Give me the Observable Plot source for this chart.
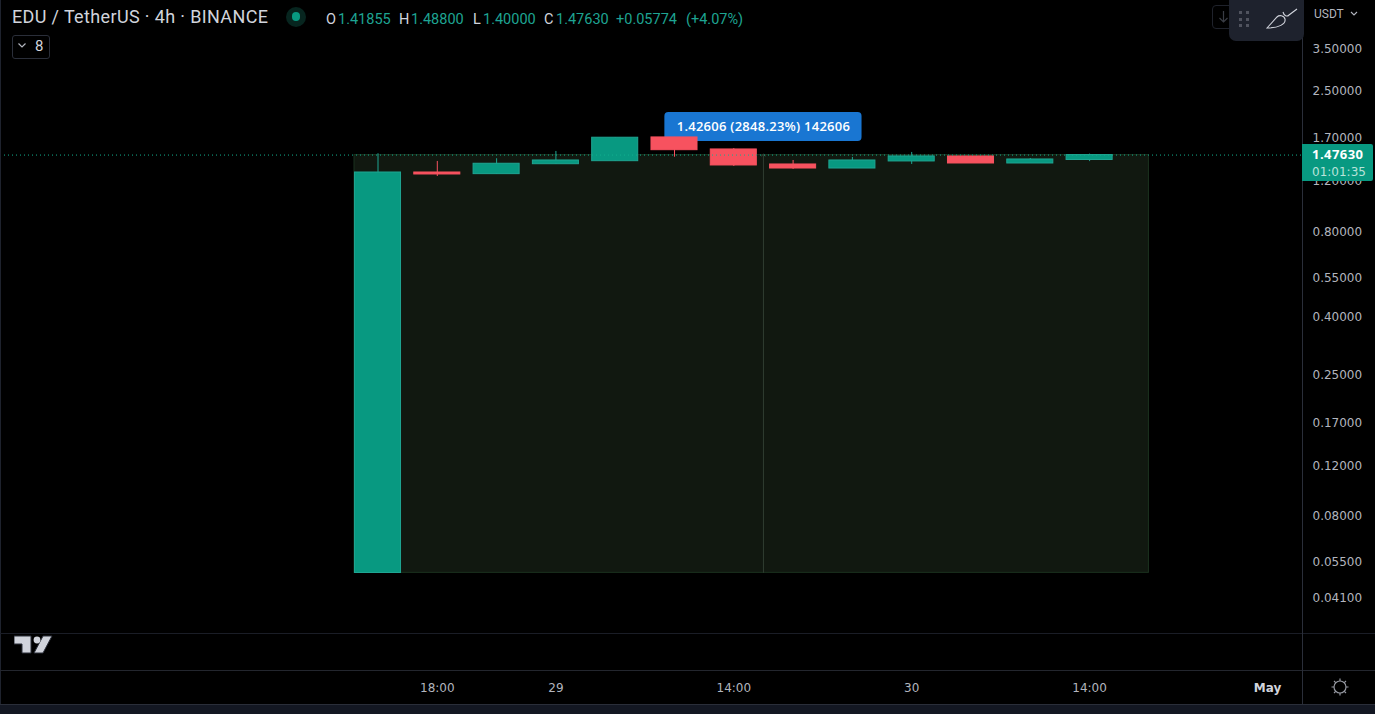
<!DOCTYPE html>
<html><head><meta charset="utf-8">
<style>
html,body{margin:0;padding:0;background:#000;width:1375px;height:714px;overflow:hidden}
#stage{position:relative;width:1375px;height:714px;font-family:Roboto,sans-serif}
#chart{position:absolute;left:0;top:0;width:1375px;height:714px}
#chart svg{position:absolute;left:0;top:0}
.t{position:absolute;white-space:nowrap;line-height:1}
.u{position:absolute}
.lab text{letter-spacing:.25px}
</style>
<script src="https://cdn.jsdelivr.net/npm/d3@7"></script>
<script src="https://cdn.jsdelivr.net/npm/@observablehq/plot@0.6"></script>
</head><body><div id="stage"><div id="chart"></div>
<div class="u" style="left:0;top:0;width:1px;height:704px;background:#1e222d"></div>
<div class="u" style="left:0;top:633px;width:1375px;height:1px;background:#1a1d26"></div>
<div class="u" style="left:0;top:670px;width:1375px;height:1px;background:#23262e"></div>
<div class="u" style="left:1302px;top:0;width:1px;height:704px;background:#2a2e39"></div>
<div class="u" style="left:0;top:704px;width:1375px;height:10px;background:#131722;border-top:1px solid #2a2e39;box-sizing:border-box"></div>

<div class="t" style="left:12px;top:8px;font-size:18px;letter-spacing:.36px;color:#d1d4dc">EDU / TetherUS · 4h · BINANCE</div>
<div class="u" style="left:286px;top:7px;width:20px;height:20px;border-radius:10px;background:#07251f"></div>
<div class="u" style="left:292px;top:12px;width:8px;height:9px;border-radius:5px;background:#089981"></div>
<div class="t" style="left:326px;top:13px;font-size:14.5px;color:#d1d4dc">O</div>
<div class="t" style="left:338px;top:13px;font-size:14.5px;color:#1ea492">1.41855</div>
<div class="t" style="left:399px;top:13px;font-size:14.5px;color:#d1d4dc">H</div>
<div class="t" style="left:411px;top:13px;font-size:14.5px;color:#1ea492">1.48800</div>
<div class="t" style="left:473px;top:13px;font-size:14.5px;color:#d1d4dc">L</div>
<div class="t" style="left:483px;top:13px;font-size:14.5px;color:#1ea492">1.40000</div>
<div class="t" style="left:544px;top:13px;font-size:14.5px;color:#d1d4dc">C</div>
<div class="t" style="left:556px;top:13px;font-size:14.5px;color:#1ea492">1.47630</div>
<div class="t" style="left:616px;top:13px;font-size:14.5px;color:#1ea492">+0.05774</div>
<div class="t" style="left:686px;top:13px;font-size:14.5px;color:#1ea492">(+4.07%)</div>
<div class="u" style="left:12px;top:35px;width:36px;height:22px;border:1px solid #2a2e39;border-radius:3px"></div>
<svg class="u" style="left:17px;top:42px" width="12" height="8"><path d="M1.5 1.5 L5 5 L8.5 1.5" fill="none" stroke="#b2b5be" stroke-width="1.2"/></svg>
<div class="t" style="left:35px;top:39px;font-size:15px;color:#d1d4dc">8</div>

<div class="u" style="left:1212px;top:5px;width:22px;height:24px;border:1px solid #1f222b;border-radius:4px;box-sizing:border-box"></div>
<svg class="u" style="left:1217px;top:10px" width="14" height="14"><path d="M6.5 1 V12 M2.5 8 L6.5 12 L10.5 8" fill="none" stroke="#3a3d45" stroke-width="1.2"/></svg>
<div class="u" style="left:1229px;top:0;width:75px;height:41px;background:#1e222d;border-radius:0 0 7px 7px"></div>
<svg class="u" style="left:1229px;top:0" width="75" height="41">
  <g fill="#50535e"><rect x="10" y="11" width="3" height="3"/><rect x="17" y="11" width="3" height="3"/><rect x="10" y="18" width="3" height="3"/><rect x="17" y="18" width="3" height="3"/><rect x="10" y="24" width="3" height="3"/><rect x="17" y="24" width="3" height="3"/></g>
  <path d="M38 28 L48 17 C50 15 55 15 56 19 C57 24 50 28 38 28 Z M54 12 C55 16 58 17 60 15 L68 9" fill="none" stroke="#d1d4dc" stroke-width="1.1"/>
</svg>
<div class="t" style="left:1314px;top:8px;font-size:12px;color:#b2b5be">USDT</div>
<svg class="u" style="left:1350px;top:11px" width="9" height="6"><path d="M1 1 L4 4 L7 1" fill="none" stroke="#b2b5be" stroke-width="1.1"/></svg>

<div class="u" style="left:1302px;top:144px;width:71px;height:37px;background:#089981;border-radius:0 2px 2px 0"></div>
<div class="t" style="left:1312px;top:148px;font-size:13px;font-weight:700;letter-spacing:.45px;color:#fff;font-family:'Open Sans',sans-serif">1.47630</div>
<div class="t" style="left:1312px;top:166px;font-size:12px;color:#b9e3da;font-family:'DejaVu Sans',sans-serif">01:01:35</div>

<svg class="u" style="left:14px;top:635px" width="40" height="22">
  <path d="M0 1 H17 V18 H8 V9 H0 Z M29 1 H38 L29 18 H20 Z" fill="#d1d4dc" stroke="#2a2e39" stroke-width="1"/><circle cx="23" cy="5" r="3.4" fill="#d1d4dc"/>
</svg>
<svg class="u" style="left:1330px;top:677px" width="20" height="20">
  <circle cx="10" cy="10" r="6" fill="none" stroke="#9598a1" stroke-width="1.2"/>
  <path d="M10 1.5 V4 M10 16 V18.5 M1.5 10 H4 M16 10 H18.5 M4 4 L5.7 5.7 M14.3 14.3 L16 16 M4 16 L5.7 14.3 M14.3 5.7 L16 4" stroke="#9598a1" stroke-width="1.2"/>
</svg>
</div>
<script>
const times = ["2023-04-28T14:00Z","2023-04-28T18:00Z","2023-04-28T22:00Z","2023-04-29T02:00Z","2023-04-29T06:00Z","2023-04-29T10:00Z","2023-04-29T14:00Z","2023-04-29T18:00Z","2023-04-29T22:00Z","2023-04-30T02:00Z","2023-04-30T06:00Z","2023-04-30T10:00Z","2023-04-30T14:00Z"];
const opens  = [0.05,1.282,1.265,1.371,1.405,1.703,1.545,1.368,1.324,1.402,1.460,1.379,1.41855];
const highs  = [1.492,1.402,1.433,1.520,1.699,1.703,1.557,1.413,1.448,1.508,1.460,1.436,1.488];
const lows   = [0.05,1.241,1.265,1.371,1.405,1.451,1.346,1.314,1.324,1.368,1.379,1.379,1.40];
const closes = [1.282,1.2615,1.376,1.413,1.699,1.536,1.357,1.324,1.413,1.460,1.379,1.4246,1.4763];

const priceTicks = [3.5,2.5,1.7,1.2,0.8,0.55,0.4,0.25,0.17,0.12,0.08,0.055,0.041];
const timeTickDates = ["2023-04-28T18:00Z","2023-04-29T02:00Z","2023-04-29T14:00Z","2023-04-30T02:00Z","2023-04-30T14:00Z"];
const timeTickLabels = ["18:00","29","14:00","30","14:00"];
const boldTickDates = ["2023-05-01T02:00Z"];
const boldTickLabels = ["May"];

const lastPrice = 1.4763;
const toolLow = 0.05007, toolHigh = 1.47613;
const toolStart = "2023-04-28T12:25Z", toolEnd = "2023-04-30T18:00Z", toolMid = "2023-04-29T16:00Z";
const toolLabel = "1.42606 (2848.23%) 142606";
const labelBox = {x1:"2023-04-29T09:21Z", x2:"2023-04-29T22:39Z", y1:1.648, y2:2.084, y:1.853};

const HALF = 1.553 * 3600e3;
const candles = times.map((t,i)=>({t:new Date(t),open:opens[i],high:highs[i],low:lows[i],close:closes[i],up:closes[i]>=opens[i]}));
const UP="#089981", UPB="#1fa592", DOWN="#f7525f";
const up=candles.filter(c=>c.up), down=candles.filter(c=>!c.up);
const d=s=>new Date(s);
const FONT="'DejaVu Sans',sans-serif";

const plot = Plot.plot({
  width:1375, height:714,
  marginLeft:0, marginRight:73, marginTop:0, marginBottom:44,
  style:{background:"#000",fontFamily:FONT,overflow:"visible",maxWidth:"none"},
  x:{type:"utc",domain:[d("2023-04-28T14:00Z"),d("2023-05-01T02:00Z")],range:[377.5,1267]},
  y:{type:"log",domain:[3.5,0.041],range:[48,597]},
  marks:[
    Plot.rect([0],{x1:()=>d(toolStart),x2:()=>d(toolEnd),y1:()=>toolLow,y2:()=>toolHigh,fill:"#111810",stroke:"#1c3320",strokeWidth:1}),
    Plot.link([0],{x1:()=>d(toolMid),x2:()=>d(toolMid),y1:()=>toolLow,y2:()=>toolHigh,stroke:"#2f3d30",strokeWidth:1,markerEnd:"arrow"}),
    Plot.rect([0],{x1:()=>d(labelBox.x1),x2:()=>d(labelBox.x2),y1:()=>labelBox.y1,y2:()=>labelBox.y2,fill:"#1976d2",rx:4}),
    Plot.text([toolLabel],{x:()=>d(toolMid),y:()=>labelBox.y,text:v=>v,fill:"#fff",fontSize:13,fontWeight:600,fontFamily:"'Open Sans',sans-serif",className:"lab"}),
    Plot.ruleX(up,{x:"t",y1:"low",y2:"high",stroke:UPB,strokeWidth:1}),
    Plot.ruleX(down,{x:"t",y1:"low",y2:"high",stroke:DOWN,strokeWidth:1}),
    Plot.rect(up,{x1:c=>new Date(+c.t-HALF),x2:c=>new Date(+c.t+HALF),y1:"open",y2:"close",fill:UP,stroke:UPB,strokeWidth:1}),
    Plot.rect(down,{x1:c=>new Date(+c.t-HALF),x2:c=>new Date(+c.t+HALF),y1:"open",y2:"close",fill:DOWN,stroke:DOWN,strokeWidth:1}),
    Plot.ruleY([lastPrice],{stroke:"#12b08f",strokeWidth:1,strokeDasharray:"1 3"}),
    Plot.axisY(priceTicks,{anchor:"right",tickSize:0,tickPadding:10,label:null,tickFormat:v=>v.toFixed(5),fill:"#b2b5be",fontSize:12,dy:1}),
    Plot.axisX({anchor:"bottom",ticks:timeTickDates.map(s=>d(s)),tickSize:0,tickPadding:13,label:null,
      tickFormat:v=>timeTickLabels[timeTickDates.map(s=>+d(s)).indexOf(+v)],fill:"#b2b5be",fontSize:12}),
    Plot.axisX({anchor:"bottom",ticks:boldTickDates.map(s=>d(s)),tickSize:0,tickPadding:13,label:null,
      tickFormat:v=>boldTickLabels[0],fill:"#d1d4dc",fontSize:12,fontWeight:700})
  ]
});
document.getElementById("chart").appendChild(plot);
</script></body></html>
